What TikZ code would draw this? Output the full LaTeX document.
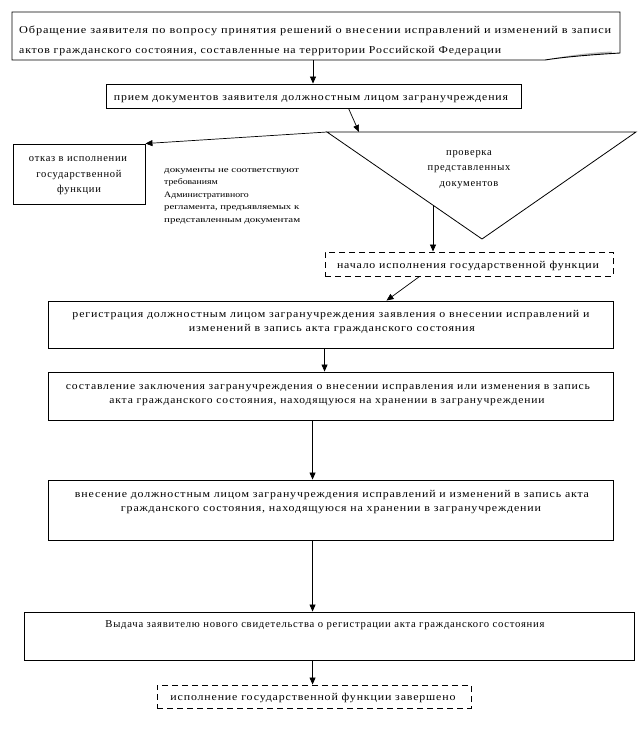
\documentclass[tikz,border=0pt]{standalone}
\usepackage{fontspec}
\setmainfont{Liberation Serif}[LetterSpace=7]
\newfontfamily\smallf{Liberation Serif}
\usepackage{graphicx}
\usetikzlibrary{arrows.meta,calc}
\newcommand{\fitw}[2]{\resizebox{#1pt}{\height}{#2}}
\begin{document}
\begin{tikzpicture}[x=1pt,y=-1pt,
  box/.style={draw, line width=0.9pt, inner sep=0pt, rectangle},
  dbox/.style={box, dash pattern=on 6pt off 4pt},
  txt/.style={inner sep=0pt, anchor=base, font=\fontsize{10.5}{12}\selectfont},
  txtl/.style={txt, anchor=base west},
  smalltxt/.style={inner sep=0pt, anchor=base west, font=\smallf\fontsize{8.3}{10}\selectfont},
  arr/.style={-{Triangle[length=7pt,width=6pt]}, line width=0.7pt}]
\useasboundingbox (0,0) rectangle (639,745);

% top document box
\coordinate (tA) at (12,12);
\coordinate (tB) at (620,12);
\coordinate (tC) at (620,53);
\coordinate (tD) at (545,60);
\coordinate (tE) at (12,60);
\fill[gray!55] (612,53.5) .. controls (588,55) and (564,57) .. (tD) .. controls (567,55.5) and (590,52.5) .. (612,51.5) -- cycle;
\draw[line width=0.9pt] (tE) -- (tA) -- (tB) -- (tC) -- (612,53.5) .. controls (588,55) and (564,57) .. (tD) -- cycle;
\node[txtl] (t1) at (19,33) {\fitw{592}{Обращение заявителя по вопросу принятия решений о внесении исправлений и изменений в записи}};
\node[txtl] (t2) at (19,53) {\fitw{482}{актов гражданского состояния, составленные на территории Российской Федерации}};
\coordinate (topout) at (313,60);

% box 2
\node[box, minimum width=415pt, minimum height=24pt] (b2) at (313.5,96) {};
\node[txt] (b2t) at (311,100) {\fitw{394}{прием документов заявителя должностным лицом загранучреждения}};

% triangle
\coordinate (tl) at (327,132);
\coordinate (tr) at (636,132);
\coordinate (tb) at (482,239);
\draw[line width=0.8pt] (tl) -- (tr) -- (tb) -- cycle;
\node[txt] (tri1) at (469,155) {проверка};
\node[txt] (tri2) at (469,170.5) {представленных};
\node[txt] (tri3) at (469,186) {документов};

% reject box
\node[box, minimum width=132pt, minimum height=60pt] (rej) at (79,174) {};
\node[txt] (r1) at (78,161) {отказ в исполнении};
\node[txt] (r2) at (79,177) {государственной};
\node[txt] (r3) at (79,192) {функции};

% condition label
\node[smalltxt] (l1) at (164,172) {\fitw{135}{документы не соответствуют}};
\node[smalltxt] (l2) at (164,184.5) {\scalebox{1.18}[1]{требованиям}};
\node[smalltxt] (l3) at (164,197) {\scalebox{1.18}[1]{Административного}};
\node[smalltxt] (l4) at (164,209.5) {\fitw{135}{регламента, предъявляемых к}};
\node[smalltxt] (l5) at (164,222) {\fitw{136}{представленным документам}};

% dashed start box
\node[dbox, minimum width=288pt, minimum height=24pt] (d1) at (469,264) {};
\node[txt] (d1t) at (468,268.5) {\fitw{262}{начало исполнения государственной функции}};

% box 3
\node[box, minimum width=565pt, minimum height=47pt] (b3) at (330.5,324.5) {};
\node[txt] (b3a) at (331,317) {\fitw{517}{регистрация должностным лицом загранучреждения заявления о внесении исправлений и}};
\node[txt] (b3b) at (332,331) {\fitw{286}{изменений в запись акта гражданского состояния}};

% box 4
\node[box, minimum width=565pt, minimum height=48pt] (b4) at (330.5,396) {};
\node[txt] (b4a) at (328,389) {\fitw{524}{составление заключения загранучреждения о внесении исправления или изменения в запись}};
\node[txt] (b4b) at (327,403) {\fitw{435}{акта гражданского состояния, находящуюся на хранении в загранучреждении}};

% box 5
\node[box, minimum width=565pt, minimum height=60pt] (b5) at (330.5,510) {};
\node[txt] (b5a) at (332,497) {\fitw{514}{внесение должностным лицом загранучреждения исправлений и изменений в запись акта}};
\node[txt] (b5b) at (331,511) {\fitw{420}{гражданского состояния, находящуюся на хранении в загранучреждении}};

% box 6
\node[box, minimum width=610pt, minimum height=48pt] (b6) at (329,636) {};
\node[txt] (b6t) at (325,627) {\fitw{439}{Выдача заявителю нового свидетельства о регистрации акта гражданского состояния}};

% final dashed box
\node[dbox, minimum width=314pt, minimum height=23pt] (fin) at (314,696.5) {};
\node[txt] (fint) at (313,700.5) {\fitw{285}{исполнение государственной функции завершено}};

% connectors
\draw[arr] (topout) -- (topout |- b2.north);
\draw[arr] ($(b2.south west)+(243,0)$) -- ($(tl)+(32,0)$);
\draw[arr] (tl) -- (rej.north east);
\coordinate (tv) at (433,205.5);
\draw[arr] (tv) -- (tv |- d1.north);
\draw[arr] ($(d1.south west)+(95,0)$) -- ($(b3.north west)+(339,0)$);
\draw[arr] ($(b3.south west)+(277,0)$) -- ($(b4.north west)+(277,0)$);
\draw[arr] ($(b4.south west)+(265,0)$) -- ($(b5.north west)+(265,0)$);
\draw[arr] ($(b5.south west)+(265,0)$) -- ($(b6.north west)+(289,0)$);
\draw[arr] ($(b6.south west)+(289,0)$) -- ($(fin.north west)+(156,0)$);
\end{tikzpicture}
\end{document}
